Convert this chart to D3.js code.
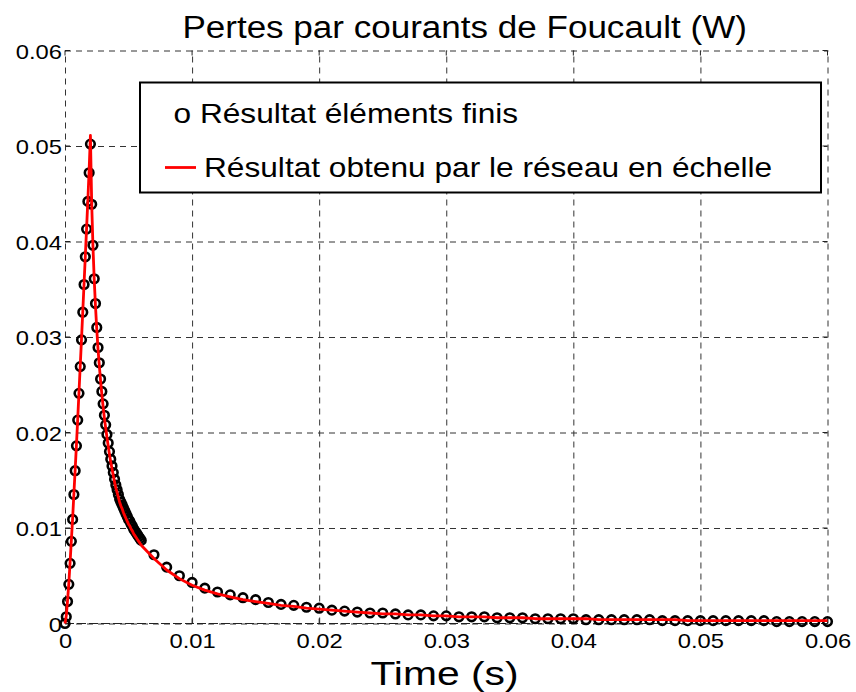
<!DOCTYPE html>
<html>
<head>
<meta charset="utf-8">
<script src="https://cdn.jsdelivr.net/npm/d3@7"></script>
<style>
  html, body { margin: 0; padding: 0; background: #fff; }
  svg { display: block; }
  text { font-family: "Liberation Sans", Arial, Helvetica, sans-serif; fill: #000; }
</style>
</head>
<body>
<svg id="chart" width="856" height="692"></svg>
<script>
// ---------- data ----------
const titleText = "Pertes par courants de Foucault (W)";
const xLabelText = "Time (s)";
const legendLabels = ["o Résultat éléments finis", "Résultat obtenu par le réseau en échelle"];

const xTicks = [0, 0.01, 0.02, 0.03, 0.04, 0.05, 0.06];
const xTickLabels = ["0", "0.01", "0.02", "0.03", "0.04", "0.05", "0.06"];
const yTicks = [0, 0.01, 0.02, 0.03, 0.04, 0.05, 0.06];
const yTickLabels = ["0", "0.01", "0.02", "0.03", "0.04", "0.05", "0.06"];

// time instants (s)
const times = [
  0, 0.0001, 0.0002, 0.0003, 0.0004, 0.0005, 0.0006, 0.0007, 0.0008, 0.0009,
  0.0010, 0.0011, 0.0012, 0.0013, 0.0014, 0.0015, 0.0016, 0.0017, 0.0018, 0.0019,
  0.0020, 0.0021, 0.0022, 0.0023, 0.0024, 0.0025, 0.0026, 0.0027, 0.0028, 0.0029,
  0.0030, 0.0031, 0.0032, 0.0033, 0.0034, 0.0035, 0.0036, 0.0037, 0.0038, 0.0039,
  0.0040, 0.0041, 0.0042, 0.0043, 0.0044, 0.0045, 0.0046, 0.0047, 0.0048, 0.0049,
  0.0050, 0.0051, 0.0052, 0.0053, 0.0054, 0.0055, 0.0056, 0.0057, 0.0058, 0.0059,
  0.0060,
  0.007, 0.008, 0.009, 0.010, 0.011, 0.012, 0.013, 0.014, 0.015, 0.016,
  0.017, 0.018, 0.019, 0.020, 0.021, 0.022, 0.023, 0.024, 0.025, 0.026,
  0.027, 0.028, 0.029, 0.030, 0.031, 0.032, 0.033, 0.034, 0.035, 0.036,
  0.037, 0.038, 0.039, 0.040, 0.041, 0.042, 0.043, 0.044, 0.045, 0.046,
  0.047, 0.048, 0.049, 0.050, 0.051, 0.052, 0.053, 0.054, 0.055, 0.056,
  0.057, 0.058, 0.059, 0.060
];

// finite element result (circles), W
const feValues = [
  0, 0.0007, 0.0023, 0.0041, 0.0063, 0.0086, 0.0109, 0.0135, 0.0160, 0.0186,
  0.0213, 0.0241, 0.0269, 0.0297, 0.0326, 0.0355, 0.0384, 0.0413, 0.0442, 0.0472,
  0.0502, 0.0439, 0.0396, 0.0361, 0.0335, 0.0310, 0.0289, 0.0273, 0.0256, 0.0243,
  0.0230, 0.0218, 0.0208, 0.0198, 0.0189, 0.0180, 0.0172, 0.0165, 0.0158, 0.0151,
  0.0145, 0.0140, 0.0135, 0.0130, 0.0127, 0.0124, 0.0121, 0.0118, 0.0115, 0.0112,
  0.0109, 0.0107, 0.0104, 0.0102, 0.0099, 0.0097, 0.0095, 0.0093, 0.0091, 0.0089,
  0.0087,
  0.0072, 0.0059, 0.0050, 0.0043, 0.0037, 0.0033, 0.0030, 0.0027, 0.0025, 0.0022,
  0.0020, 0.0019, 0.0017, 0.0016, 0.0014, 0.0013, 0.0012, 0.0011, 0.0011, 0.0010,
  0.0009, 0.0009, 0.0008, 0.0008, 0.0007, 0.0007, 0.0007, 0.0006, 0.0006, 0.0006,
  0.0005, 0.0005, 0.0005, 0.0005, 0.0004, 0.0004, 0.0004, 0.0004, 0.0004, 0.0004,
  0.0003, 0.0003, 0.0003, 0.0003, 0.0003, 0.0003, 0.0003, 0.0003, 0.0003, 0.0002,
  0.0002, 0.0002, 0.0002, 0.0002
];

// ladder network result (red line), W
const ladderValues = [
  0, 0.0008, 0.0024, 0.0042, 0.0064, 0.0087, 0.0110, 0.0136, 0.0161, 0.0187,
  0.0214, 0.0242, 0.0270, 0.0298, 0.0327, 0.0356, 0.0385, 0.0414, 0.0444, 0.0475,
  0.0511, 0.0440, 0.0395, 0.0360, 0.0332, 0.0308, 0.0287, 0.0270, 0.0254, 0.0240,
  0.0227, 0.0215, 0.0205, 0.0195, 0.0186, 0.0177, 0.0169, 0.0162, 0.0155, 0.0148,
  0.0142, 0.0137, 0.0132, 0.0127, 0.0123, 0.0120, 0.0116, 0.0113, 0.0110, 0.0107,
  0.0104, 0.0102, 0.0099, 0.0097, 0.0094, 0.0092, 0.0090, 0.0088, 0.0086, 0.0084,
  0.0082,
  0.0068, 0.0056, 0.0047, 0.0040, 0.0035, 0.0031, 0.0028, 0.0025, 0.0023, 0.0021,
  0.0019, 0.0018, 0.0016, 0.0015, 0.0014, 0.0013, 0.0012, 0.0011, 0.0010, 0.0010,
  0.0009, 0.0009, 0.0008, 0.0008, 0.0007, 0.0007, 0.0007, 0.0006, 0.0006, 0.0006,
  0.0005, 0.0005, 0.0005, 0.0005, 0.0005, 0.0004, 0.0004, 0.0004, 0.0004, 0.0004,
  0.0004, 0.0004, 0.0003, 0.0003, 0.0003, 0.0003, 0.0003, 0.0003, 0.0003, 0.0003,
  0.0003, 0.0003, 0.0003, 0.0003
];

// ---------- drawing ----------
const svg = d3.select("#chart");
const X0 = 65, X1 = 827.5, Y0 = 623.5, Y1 = 50.5;
const x = d3.scaleLinear().domain([0, 0.06]).range([X0, X1]);
const y = d3.scaleLinear().domain([0, 0.06]).range([Y0, Y1]);
const STRETCH = 1.13; // horizontal stretch of the reference's glyphs

svg.append("rect").attr("width", 856).attr("height", 692).attr("fill", "#fff");

// grid (dashed) incl. frame
const gridColor = "#333";
const gx = svg.append("g").attr("transform", `translate(0,${Y0})`)
  .call(d3.axisBottom(x).tickValues(xTicks).tickSize(-(Y0 - Y1)).tickFormat(""));
gx.select(".domain").remove();
gx.selectAll("line").attr("stroke", gridColor).attr("stroke-width", 1).attr("stroke-dasharray", "6,5");

const gy = svg.append("g").attr("transform", `translate(${X0},0)`)
  .call(d3.axisLeft(y).tickValues(yTicks).tickSize(-(X1 - X0)).tickFormat(""));
gy.select(".domain").remove();
gy.selectAll("line").attr("stroke", gridColor).attr("stroke-width", 1).attr("stroke-dasharray", "6,5");

// bottom axis line a bit darker
svg.append("line").attr("x1", X0).attr("x2", X1).attr("y1", Y0).attr("y2", Y0)
  .attr("stroke", "#222").attr("stroke-width", 1.2).attr("stroke-dasharray", "9,3");

// small inward tick marks on all four sides
const tickLen = 5;
const tk = svg.append("g").attr("stroke", "#222").attr("stroke-width", 1);
xTicks.forEach(v => {
  tk.append("line").attr("x1", x(v)).attr("x2", x(v)).attr("y1", Y0).attr("y2", Y0 - tickLen);
  tk.append("line").attr("x1", x(v)).attr("x2", x(v)).attr("y1", Y1).attr("y2", Y1 + tickLen);
});
yTicks.forEach(v => {
  tk.append("line").attr("x1", X0).attr("x2", X0 + tickLen).attr("y1", y(v)).attr("y2", y(v));
  tk.append("line").attr("x1", X1).attr("x2", X1 - tickLen).attr("y1", y(v)).attr("y2", y(v));
});

// tick labels via axes
const xl = svg.append("g").attr("transform", `translate(0,${Y0})`)
  .call(d3.axisBottom(x).tickValues(xTicks).tickSize(0).tickPadding(10)
    .tickFormat((d, i) => xTickLabels[i]));
xl.select(".domain").remove();
xl.selectAll("text").attr("font-size", 21).attr("font-family", "Liberation Sans, Arial, sans-serif")
  .attr("fill", "#000").attr("dy", "0.71em").attr("y", 9.5);

const yl = svg.append("g").attr("transform", `translate(${X0},0)`)
  .call(d3.axisLeft(y).tickValues(yTicks).tickSize(0).tickPadding(3)
    .tickFormat((d, i) => yTickLabels[i]));
yl.select(".domain").remove();
yl.selectAll("text").attr("font-size", 21).attr("font-family", "Liberation Sans, Arial, sans-serif")
  .attr("fill", "#000").attr("dy", "0.36em");

// data
const pts = times.map((t, i) => ({ t, fe: feValues[i], ld: ladderValues[i] }));

svg.append("g").selectAll("circle").data(pts).join("circle")
  .attr("cx", d => x(d.t)).attr("cy", d => y(d.fe)).attr("r", 4.3)
  .attr("fill", "none").attr("stroke", "#000").attr("stroke-width", 2.6);

svg.append("path").datum(pts)
  .attr("d", d3.line().x(d => x(d.t)).y(d => y(d.ld)))
  .attr("fill", "none").attr("stroke", "#ff0000").attr("stroke-width", 2.8)
  .attr("stroke-linejoin", "round");

// legend
const lg = svg.append("g");
lg.append("rect").attr("x", 140).attr("y", 82.5).attr("width", 681).attr("height", 110)
  .attr("fill", "#fff").attr("stroke", "#000").attr("stroke-width", 2);
lg.append("text").attr("x", 173.5).attr("y", 122.5).attr("font-size", 28).text(legendLabels[0]);
lg.append("line").attr("x1", 165).attr("x2", 196).attr("y1", 167.5).attr("y2", 167.5)
  .attr("stroke", "#ff0000").attr("stroke-width", 2.8);
lg.append("text").attr("x", 204).attr("y", 177.3).attr("font-size", 28).text(legendLabels[1]);

// title & axis label
svg.append("text").attr("x", 464.7).attr("y", 37.5).attr("text-anchor", "middle")
  .attr("font-size", 31).text(titleText);
svg.append("text").attr("class", "xlabel").attr("x", 444.5).attr("y", 684.5).attr("text-anchor", "middle")
  .attr("font-size", 34).text(xLabelText);

// reproduce the reference's slightly wide glyphs
svg.selectAll("text").each(function () {
  const w = this.getComputedTextLength();
  if (w > 0) {
    const s = this.classList.contains("xlabel") ? 1.2 : STRETCH;
    this.setAttribute("textLength", (w * s).toFixed(1));
    this.setAttribute("lengthAdjust", "spacingAndGlyphs");
  }
});
</script>
</body>
</html>
